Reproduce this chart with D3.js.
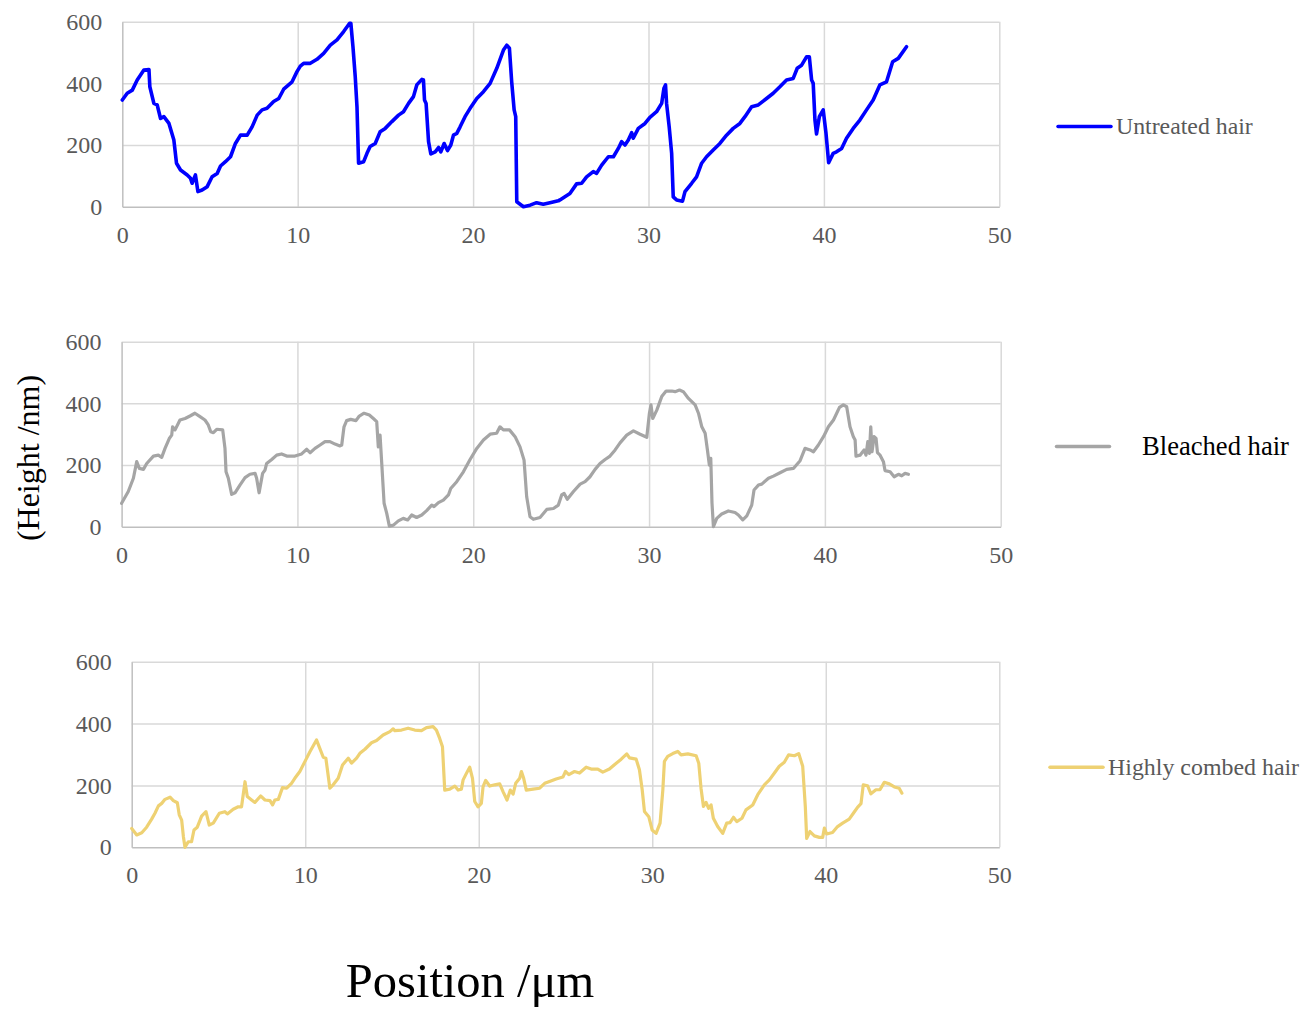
<!DOCTYPE html>
<html>
<head>
<meta charset="utf-8">
<script src="https://cdn.jsdelivr.net/npm/d3@7"></script>
<style>
  body { margin: 0; background: #fff; }
  svg { display: block; font-family: 'Liberation Serif', 'Times New Roman', serif; }
  svg text { font-family: 'Liberation Serif', 'Times New Roman', serif; }
</style>
</head>
<body>
<svg id="chart" width="1312" height="1011"></svg>
<script>
// x tick values and y tick values shared by the three panels
var xTicks = [0, 10, 20, 30, 40, 50];
var yTicks = [0, 200, 400, 600];

// Untreated hair profile [position um, height nm]
var untreated = [
  [0,346],[0.28,368],[0.57,378],[0.85,411],[1.23,443],[1.52,445],[1.57,389],[1.8,335],[1.99,330],
  [2.18,286],[2.37,292],[2.66,270],[2.94,216],[3.09,141],[3.32,119],[3.7,103],[3.89,92],[3.98,76],
  [4.17,103],[4.31,49],[4.55,54],[4.84,65],[5.12,97],[5.41,108],[5.6,132],[5.88,146],[6.17,162],
  [6.45,205],[6.74,232],[7.12,232],[7.4,259],[7.69,297],[7.97,314],[8.25,319],[8.63,341],[8.92,351],
  [9.2,381],[9.68,405],[9.96,438],[10.15,456],[10.34,465],[10.72,465],[11.1,478],[11.48,497],
  [11.86,524],[12.24,541],[12.62,568],[12.96,595],[13.03,595],[13.15,519],[13.28,422],[13.38,324],
  [13.47,141],[13.76,146],[13.95,173],[14.13,195],[14.42,205],[14.7,243],[14.99,254],[15.37,276],
  [15.75,297],[16.03,308],[16.32,335],[16.6,357],[16.79,395],[17.08,413],[17.17,411],[17.23,346],
  [17.32,335],[17.46,211],[17.59,171],[17.84,178],[18.03,192],[18.16,178],[18.35,205],[18.54,182],
  [18.73,200],[18.88,232],[19.07,238],[19.26,259],[19.54,292],[19.83,319],[20.21,351],[20.59,373],
  [20.97,400],[21.35,449],[21.73,508],[21.92,524],[22.07,514],[22.2,405],[22.34,314],[22.43,292],
  [22.49,16],[22.87,0],[23.25,5],[23.62,13],[24.0,8],[24.38,13],[24.86,19],[24.95,22],[25.52,43],
  [25.9,74],[26.19,76],[26.47,97],[26.85,114],[27.04,108],[27.33,135],[27.71,162],[28.0,162],
  [28.28,189],[28.47,211],[28.66,200],[28.85,216],[29.04,240],[29.13,222],[29.42,254],[29.8,270],
  [30.08,290],[30.46,308],[30.75,335],[30.88,384],[30.97,395],[31.03,335],[31.18,259],[31.32,173],
  [31.41,32],[31.6,22],[31.94,18],[32.08,49],[32.46,76],[32.74,97],[33.03,141],[33.31,162],
  [33.69,184],[34.07,205],[34.45,232],[34.83,254],[35.21,270],[35.5,292],[35.88,324],[36.26,330],
  [36.73,351],[37.11,368],[37.49,389],[37.87,411],[38.25,416],[38.48,449],[38.73,459],[39.01,486],
  [39.17,486],[39.3,411],[39.39,400],[39.49,281],[39.58,236],[39.74,292],[39.96,314],[40.12,238],
  [40.27,143],[40.53,173],[40.72,178],[41.01,189],[41.29,222],[41.67,254],[42.05,281],[42.43,314],
  [42.81,346],[43.19,395],[43.57,405],[43.92,470],[44.24,481],[44.71,519]
];

// Bleached hair profile
var bleached = [
  [0,76],[0.38,114],[0.67,157],[0.86,211],[1.01,189],[1.24,186],[1.43,205],[1.81,229],[2.09,232],
  [2.28,225],[2.47,254],[2.71,286],[2.85,297],[2.9,324],[3.04,314],[3.32,346],[3.61,351],[3.89,359],
  [4.17,368],[4.46,357],[4.74,346],[4.93,330],[5.07,308],[5.22,305],[5.41,316],[5.75,314],[5.88,254],
  [5.94,178],[6.07,157],[6.26,105],[6.45,110],[6.73,135],[7.02,159],[7.3,170],[7.59,173],[7.68,157],
  [7.82,110],[8.02,173],[8.16,184],[8.25,205],[8.54,218],[8.82,232],[9.1,236],[9.39,229],[9.86,229],
  [10.24,236],[10.53,251],[10.72,240],[11.0,254],[11.29,265],[11.57,276],[11.85,276],[12.14,268],
  [12.42,262],[12.52,265],[12.65,324],[12.8,344],[13.03,348],[13.33,344],[13.52,359],[13.79,368],
  [14.09,362],[14.32,351],[14.51,341],[14.6,259],[14.7,297],[14.79,211],[14.93,76],[15.08,43],
  [15.23,2],[15.46,5],[15.74,19],[16.02,27],[16.27,22],[16.5,38],[16.78,30],[17.07,38],[17.35,52],
  [17.64,70],[17.77,65],[18.02,78],[18.3,86],[18.59,103],[18.72,124],[19.06,146],[19.44,178],
  [19.82,218],[20.2,254],[20.58,281],[20.96,300],[21.33,303],[21.52,324],[21.71,314],[22.06,314],
  [22.38,292],[22.66,259],[22.89,216],[23.04,97],[23.23,32],[23.42,24],[23.8,30],[24.18,56],
  [24.56,59],[24.84,70],[25.03,103],[25.17,108],[25.35,89],[25.7,114],[26.08,138],[26.36,146],
  [26.64,162],[26.93,186],[27.21,205],[27.5,218],[27.78,229],[28.07,249],[28.35,272],[28.73,297],
  [29.11,311],[29.49,300],[29.87,290],[30.02,368],[30.11,395],[30.21,351],[30.44,378],[30.72,422],
  [30.97,440],[31.29,440],[31.48,438],[31.73,443],[31.95,438],[32.24,416],[32.62,395],[32.81,368],
  [33.0,324],[33.19,303],[33.32,249],[33.43,200],[33.51,222],[33.58,76],[33.66,0],[33.85,27],
  [34.13,41],[34.51,51],[34.89,46],[35.08,38],[35.33,22],[35.56,35],[35.84,70],[35.97,119],
  [36.22,135],[36.41,138],[36.79,157],[37.07,164],[37.45,175],[37.83,186],[38.21,189],[38.59,214],
  [38.87,254],[39.16,249],[39.35,243],[39.63,265],[39.92,292],[40.2,324],[40.49,346],[40.83,387],
  [41.05,395],[41.24,389],[41.43,324],[41.62,292],[41.72,281],[41.77,229],[42.0,232],[42.23,249],
  [42.34,232],[42.44,276],[42.53,238],[42.61,324],[42.68,243],[42.8,292],[42.91,286],[42.99,240],
  [43.14,232],[43.33,211],[43.42,182],[43.71,178],[43.94,162],[44.18,170],[44.37,165],[44.56,173],
  [44.75,170]
];

// Highly combed hair profile
var combed = [
  [0,61],[0.29,40],[0.58,47],[0.86,65],[1.15,91],[1.34,110],[1.54,134],[1.73,142],[1.92,155],
  [2.21,162],[2.4,151],[2.63,144],[2.74,105],[2.88,88],[2.98,34],[3.07,0],[3.26,18],[3.45,18],
  [3.59,56],[3.78,65],[4.03,101],[4.28,115],[4.47,72],[4.7,78],[5.05,110],[5.37,115],[5.51,108],
  [5.85,123],[6.14,131],[6.33,131],[6.53,212],[6.66,164],[6.91,153],[7.1,145],[7.43,166],[7.68,153],
  [7.97,151],[8.12,137],[8.25,153],[8.45,155],[8.69,193],[8.93,191],[9.21,207],[9.4,223],[9.69,245],
  [9.98,277],[10.27,309],[10.65,347],[10.84,320],[11.04,291],[11.19,288],[11.42,191],[11.61,202],
  [11.9,223],[12.15,266],[12.48,288],[12.67,272],[12.96,288],[13.15,304],[13.44,317],[13.82,338],
  [14.11,345],[14.49,363],[14.88,374],[15.07,383],[15.16,377],[15.55,379],[15.93,385],[16.31,379],
  [16.7,377],[16.99,387],[17.37,390],[17.56,379],[17.75,352],[17.91,325],[18.04,185],[18.33,188],
  [18.62,198],[18.81,185],[19.0,188],[19.1,218],[19.29,239],[19.48,259],[19.64,223],[19.77,148],
  [19.96,131],[20.15,142],[20.25,196],[20.4,216],[20.63,198],[20.92,202],[21.21,205],[21.4,180],
  [21.63,153],[21.82,185],[21.98,172],[22.13,207],[22.36,223],[22.46,245],[22.59,223],[22.74,185],
  [23.13,188],[23.51,191],[23.8,207],[24.08,213],[24.46,221],[24.85,227],[25.0,245],[25.19,235],
  [25.52,245],[25.81,240],[26.19,259],[26.48,253],[26.86,253],[27.15,243],[27.53,253],[27.82,267],
  [28.21,285],[28.53,302],[28.69,289],[29.07,285],[29.26,251],[29.42,186],[29.55,116],[29.8,99],
  [29.99,56],[30.22,45],[30.45,78],[30.61,186],[30.7,278],[30.89,294],[31.18,303],[31.47,310],
  [31.66,299],[32.05,302],[32.53,296],[32.68,272],[32.81,191],[32.95,132],[33.1,145],[33.25,126],
  [33.39,137],[33.52,94],[33.77,67],[34.06,45],[34.29,78],[34.48,80],[34.68,97],[34.87,83],
  [35.17,94],[35.4,121],[35.79,137],[36.08,170],[36.46,202],[36.75,218],[37.04,240],[37.32,262],
  [37.61,275],[37.86,299],[38.19,296],[38.44,303],[38.67,262],[38.82,132],[38.9,29],[39.09,51],
  [39.34,37],[39.63,32],[39.82,32],[39.92,62],[40.05,43],[40.39,48],[40.68,67],[40.97,78],
  [41.35,91],[41.59,110],[41.84,130],[42.03,141],[42.16,202],[42.41,199],[42.6,173],[42.89,186],
  [43.12,186],[43.37,210],[43.66,205],[43.95,195],[44.23,191],[44.39,175]
];

var seriesNames = ["Untreated hair", "Bleached hair", "Highly combed hair"];
var seriesColors = ["#0000ff", "#a5a5a5", "#eed173"];
var seriesWidths = [3.6, 3.2, 3.2];

var panels = [
  {data: untreated, left: 122.3, right: 999.3, top: 21.7, bottom: 206.7,
   legX: 1058, legY: 126.5, textX: 1116, textSize: 23.8, textColor: "#595959"},
  {data: bleached, left: 121.6, right: 1000.7, top: 341.7, bottom: 526.7,
   legX: 1056.5, legY: 446.5, textX: 1142, textSize: 26.6, textColor: "#000000"},
  {data: combed, left: 131.7, right: 999.3, top: 661.7, bottom: 847.3,
   legX: 1050, legY: 767.3, textX: 1108, textSize: 23.9, textColor: "#595959"}
];

var svg = d3.select("#chart");

function styleAxis(s) {
  s.attr("font-family", null).attr("font-size", null);
  s.select(".domain").attr("stroke", "#bfbfbf").attr("stroke-width", 1.5);
  s.selectAll("text").attr("fill", "#595959").attr("font-size", "24px");
}

panels.forEach(function(p, i) {
  var x = d3.scaleLinear().domain([0, 50]).range([p.left, p.right]);
  var y = d3.scaleLinear().domain([0, 600]).range([p.bottom, p.top]);
  var w = p.right - p.left, h = p.bottom - p.top;
  var g = svg.append("g");

  // grid
  g.append("g")
    .attr("transform", "translate(0," + p.bottom + ")")
    .call(d3.axisBottom(x).tickValues(xTicks.slice(1)).tickSize(-h).tickFormat(""))
    .call(function(s) { s.select(".domain").remove(); s.selectAll("line").attr("stroke", "#d9d9d9").attr("stroke-width", 1.5); });
  g.append("g")
    .attr("transform", "translate(" + p.left + ",0)")
    .call(d3.axisLeft(y).tickValues(yTicks.slice(1)).tickSize(-w).tickFormat(""))
    .call(function(s) { s.select(".domain").remove(); s.selectAll("line").attr("stroke", "#d9d9d9").attr("stroke-width", 1.5); });

  // axes
  g.append("g")
    .attr("transform", "translate(0," + p.bottom + ")")
    .call(d3.axisBottom(x).tickValues(xTicks).tickSize(0).tickPadding(19))
    .call(styleAxis);
  g.append("g")
    .attr("transform", "translate(" + p.left + ",0)")
    .call(d3.axisLeft(y).tickValues(yTicks).tickSize(0).tickPadding(20))
    .call(styleAxis);

  var line = d3.line().x(function(d) { return x(d[0]); }).y(function(d) { return y(d[1]); });
  g.append("path")
    .datum(p.data)
    .attr("d", line)
    .attr("fill", "none")
    .attr("stroke", seriesColors[i])
    .attr("stroke-width", seriesWidths[i])
    .attr("stroke-linejoin", "round")
    .attr("stroke-linecap", "round");

  // legend
  g.append("line")
    .attr("x1", p.legX).attr("x2", p.legX + 53)
    .attr("y1", p.legY).attr("y2", p.legY)
    .attr("stroke", seriesColors[i]).attr("stroke-width", 3.5).attr("stroke-linecap", "round");
  g.append("text")
    .attr("x", p.textX).attr("y", p.legY)
    .attr("dy", "0.33em")
    .attr("fill", p.textColor)
    .attr("font-size", p.textSize + "px")
    .text(seriesNames[i]);
});

svg.append("text")
  .attr("transform", "translate(39,458) rotate(-90)")
  .attr("text-anchor", "middle")
  .attr("font-size", "32px")
  .attr("fill", "#000")
  .text("(Height /nm)");

svg.append("text")
  .attr("x", 470).attr("y", 997)
  .attr("text-anchor", "middle")
  .attr("font-size", "48.5px")
  .attr("fill", "#000")
  .text("Position /\u03bcm");
</script>
</body>
</html>
